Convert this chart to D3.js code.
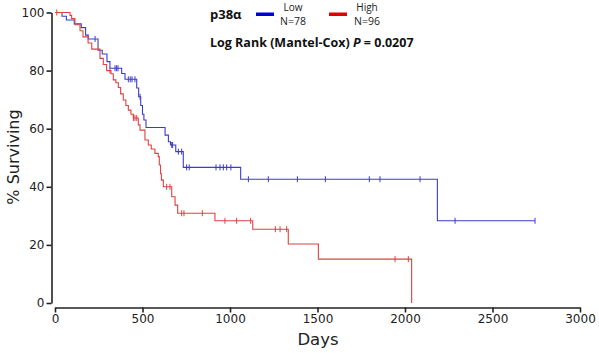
<!DOCTYPE html>
<html><head><meta charset="utf-8">
<script src="https://cdn.jsdelivr.net/npm/d3@7"></script>
<style>body{margin:0;background:#fff}svg{display:block}</style>
</head><body>
<svg id="c" width="599" height="353"></svg>
<script>
// ---- data ----
const lowSteps = [[0,100],[40,98.7],[65,97.4],[110,96.1],[150,94.8],[175,92.2],[190,90.9],[246,87],[270,85.7],[297,83.1],[314,80.8],[381,79],[400,77],[467,74],[478,71],[490,68],[500,65],[508,63],[520,60.4],[629,57.8],[648,55.5],[660,54.4],[690,52.1],[733,46.7],[1061,42.6],[2185,28.3],[2743,28.3]];
const lowCensor = [229,343,352,360,419,430,440,457,486,667,672,705,724,752,767,920,943,962,981,1005,1105,1219,1385,1545,1796,1857,2086,2286,2743];
const highSteps = [[0,100],[86,99],[95,97.9],[114,95.8],[143,93.7],[160,91.6],[189,89.5],[210,87.4],[257,84.2],[276,82.1],[295,80],[320,78.9],[333,76.8],[348,75.8],[362,74.2],[375,72],[390,69.9],[405,68],[419,66.4],[434,65],[448,63.7],[476,61.3],[486,59.5],[514,56.1],[533,54.4],[550,53],[571,51.5],[590,50.4],[596,47.5],[603,44.5],[608,42.3],[619,40],[667,36.6],[686,33.7],[701,30.9],[914,28.3],[1130,25.4],[1333,20.3],[1505,15.1],[2038,0]];
const highCensor = [10,314,448,457,467,638,657,724,737,842,971,1038,1118,1259,1286,1324,1943,2019];
const xTicks = [0,500,1000,1500,2000,2500,3000];
const yTicks = [0,20,40,60,80,100];
const groups = [{name:"Low", n:"N=78", color:"#0000dd", line:"#3c3cc8", steps:lowSteps, censor:lowCensor},
                {name:"High", n:"N=96", color:"#e00000", line:"#e04040", steps:highSteps, censor:highCensor}];

const svg = d3.select("#c");
const x = d3.scaleLinear().domain([0,3000]).range([55,580]);
const y = d3.scaleLinear().domain([0,100]).range([303,12.5]);
const tickFont = "DejaVu Sans";

// axes
const ya = svg.append("g").attr("transform","translate(51.5,0)")
  .call(d3.axisLeft(y).tickValues(yTicks).tickFormat(d3.format("d")).tickSize(5).tickSizeOuter(0).tickPadding(2));
const xa = svg.append("g").attr("transform","translate(0,307.5)")
  .call(d3.axisBottom(x).tickValues(xTicks).tickFormat(d3.format("d")).tickSize(5).tickSizeOuter(0).tickPadding(2));
[ya,xa].forEach(a=>{
  a.selectAll("path,line").attr("stroke","#222").attr("stroke-width",1.6);
  a.selectAll("text").attr("font-family",tickFont).attr("font-size",12).attr("fill","#222");
});

// curves
const stepLine = d3.line().x(d=>x(d[0])).y(d=>y(d[1])).curve(d3.curveStepAfter);
function survAt(steps,t){let s=100;for(const d of steps){if(d[0]<=t)s=d[1];}return s;}
groups.forEach(g=>{
  svg.append("path").attr("d",stepLine(g.steps)).attr("fill","none")
    .attr("stroke",g.line).attr("stroke-width",1.1);
  svg.append("g").selectAll("line").data(g.censor).join("line")
    .attr("x1",d=>x(d)).attr("x2",d=>x(d))
    .attr("y1",d=>y(survAt(g.steps,d))-3).attr("y2",d=>y(survAt(g.steps,d))+3)
    .attr("stroke",g.line).attr("stroke-width",1);
});

// axis titles
svg.append("text").attr("x",318).attr("y",345).attr("text-anchor","middle")
  .attr("font-family",tickFont).attr("font-size",16.5).attr("fill","#222").text("Days");
svg.append("text").attr("transform","translate(19,157) rotate(-90)").attr("text-anchor","middle")
  .attr("font-family",tickFont).attr("font-size",16).attr("fill","#222").text("% Surviving");

// legend
const lf = "Open Sans";
svg.append("text").attr("x",210).attr("y",19).attr("font-family",lf).attr("font-weight","bold")
  .attr("font-size",13).attr("fill","#111").text("p38α");
const lx = [256,329], tx=[293,367];
groups.forEach((g,i)=>{
  svg.append("rect").attr("x",lx[i]).attr("y",12.5).attr("width",18).attr("height",3.5).attr("fill",g.color);
  svg.append("text").attr("x",tx[i]).attr("y",11).attr("text-anchor","middle").attr("font-family",lf)
    .attr("font-size",10).attr("fill","#222").text(g.name);
  svg.append("text").attr("x",tx[i]).attr("y",25).attr("text-anchor","middle").attr("font-family",lf)
    .attr("font-size",10.5).attr("fill","#222").text(g.n);
});
const lr = svg.append("text").attr("x",210).attr("y",47).attr("font-family",lf).attr("font-weight","bold")
  .attr("font-size",12.5).attr("fill","#111");
lr.append("tspan").text("Log Rank (Mantel-Cox) ");
lr.append("tspan").attr("font-style","italic").text("P");
lr.append("tspan").text(" = 0.0207");
</script>
</body></html>
